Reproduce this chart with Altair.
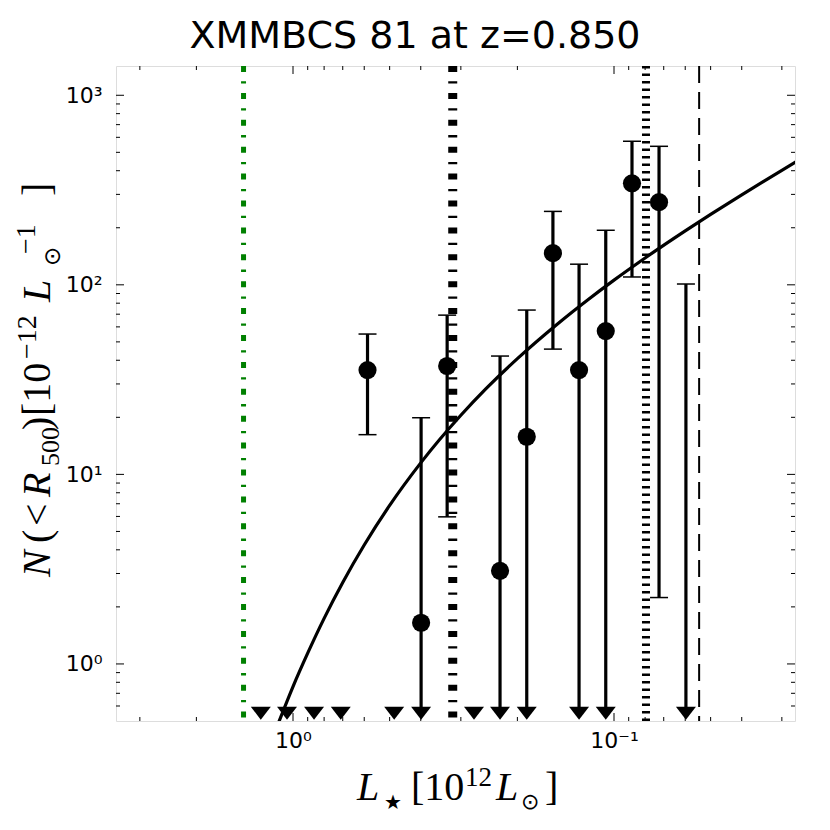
import altair as alt
import pandas as pd

# ---------------- data ----------------
# detected bins: luminosity [1e12 Lsun] and N(<R500) [1e-12 Lsun^-1]
pt_L = [0.586, 0.399, 0.331, 0.2265, 0.187, 0.155, 0.1285, 0.1061, 0.0879, 0.0724]
pt_N = [35.5, 1.65, 37.3, 3.10, 15.8, 147, 35.5, 57.0, 343, 273]

# error bars (None = lower limit drawn as an arrow to the bottom)
eb_L = [0.586, 0.399, 0.331, 0.2265, 0.187, 0.155, 0.1285, 0.1061, 0.0879, 0.0724, 0.0597]
eb_hi = [55.0, 19.9, 69.2, 42.1, 73.6, 244, 128.5, 194, 572, 538, 101]
eb_lo = [16.2, None, 5.97, None, None, 45.8, None, None, 110, 2.24, None]

# bins drawn as downward arrows / triangles at the bottom
arrow_L = [1.26, 1.044, 0.860, 0.710, 0.484, 0.399, 0.273, 0.2265, 0.187, 0.1285, 0.1061, 0.0597]

# model curve
curve_L = [1.12, 1.0, 0.9, 0.8, 0.7, 0.6, 0.5, 0.4, 0.3, 0.25, 0.2, 0.15, 0.12, 0.1,
           0.08, 0.06, 0.05, 0.04, 0.03, 0.027]
curve_N = [0.47, 0.76, 1.14, 1.74, 2.69, 4.24, 6.86, 11.5, 20.5, 28.4, 40.8, 62.2, 84.0,
           105.9, 138.6, 192.6, 235.2, 298.4, 401.9, 447.4]

# vertical reference lines
vline_green_L = 1.426
vline_dashdot_L = 0.318
vline_dotted_L = 0.0795
vline_dashed_L = 0.0543

# axis ticks
x_major = [1.0, 0.1]
x_minor = [3, 2, 0.9, 0.8, 0.7, 0.6, 0.5, 0.4, 0.3, 0.2, 0.09, 0.08, 0.07, 0.06, 0.05, 0.04, 0.03]
y_major = [1, 10, 100, 1000]
y_minor = [0.6, 0.7, 0.8, 0.9, 2, 3, 4, 5, 6, 7, 8, 9, 20, 30, 40, 50, 60, 70, 80, 90,
           200, 300, 400, 500, 600, 700, 800, 900]

TITLE = "XMMBCS 81 at z=0.850"
ARROW_N = 0.55

# ---------------- layout ----------------
W, H = 679, 655
OX, OY = 116, 66  # page position of the plot origin (for title pieces)

xscale = alt.Scale(type="log", domain=[0.0273, 3.56], reverse=True, nice=False, zero=False)
yscale = alt.Scale(type="log", domain=[0.5, 1427], nice=False, zero=False)

x_axis = alt.Axis(values=x_major, labelExpr="datum.value > 0.5 ? '10⁰' : '10⁻¹'",
                  ticks=False, domain=False, grid=False, title=None,
                  labelFont="DejaVu Sans", labelFontSize=22, labelColor="black",
                  labelPadding=9, labelOverlap=False, labelFlush=False)
y_axis = alt.Axis(values=y_major,
                  labelExpr="datum.value > 500 ? '10³' : datum.value > 50 ? '10²' : datum.value > 5 ? '10¹' : '10⁰'",
                  ticks=False, domain=False, grid=False, title=None,
                  labelFont="DejaVu Sans", labelFontSize=22, labelColor="black",
                  labelPadding=14, labelOverlap=False, labelFlush=False)


def X(f="L"):
    return alt.X(f"{f}:Q", scale=xscale, axis=x_axis)


def Y(f="N"):
    return alt.Y(f"{f}:Q", scale=yscale, axis=y_axis)


layers = []

# vertical lines
def vrule(L, color, width, dash):
    return alt.Chart(pd.DataFrame({"L": [L]})).mark_rule(
        color=color, strokeWidth=width, strokeDash=dash, strokeCap="butt"
    ).encode(x=X())

layers.append(vrule(vline_green_L, "#008000", 5, [6, 9.3, 2.3, 9.3]))
layers.append(vrule(vline_dashdot_L, "black", 9, [6, 9.3, 2.3, 9.3]))
layers.append(vrule(vline_dotted_L, "black", 8, [2.5, 5]))
layers.append(vrule(vline_dashed_L, "black", 2, [17, 9]))

# model curve
curve_df = pd.DataFrame({"L": curve_L, "N": curve_N})
layers.append(alt.Chart(curve_df).mark_line(color="black", strokeWidth=3.2, clip=True,
                                            interpolate="monotone").encode(x=X(), y=Y()))

# error bars
eb_df = pd.DataFrame({"L": eb_L, "hi": eb_hi,
                      "lo": [ARROW_N if v is None else v for v in eb_lo]})
layers.append(alt.Chart(eb_df).mark_rule(color="black", strokeWidth=3.2, strokeCap="butt").encode(
    x=X(), y=Y("lo"), y2="hi:Q"))

caps_L = list(eb_L) + [l for l, v in zip(eb_L, eb_lo) if v is not None]
caps_N = list(eb_hi) + [v for v in eb_lo if v is not None]
caps_df = pd.DataFrame({"L": caps_L, "N": caps_N})
layers.append(alt.Chart(caps_df).mark_point(shape="M-1,0L1,0", size=324, filled=False,
                                            stroke="black", strokeWidth=1.5, opacity=1).encode(
    x=X(), y=Y()))

# points
pt_df = pd.DataFrame({"L": pt_L, "N": pt_N})
layers.append(alt.Chart(pt_df).mark_point(shape="circle", filled=True, size=330,
                                          color="black", opacity=1).encode(x=X(), y=Y()))

# arrows / triangles at the bottom
ar_df = pd.DataFrame({"L": arrow_L, "N": [ARROW_N] * len(arrow_L)})
layers.append(alt.Chart(ar_df).mark_point(shape="M-1,-0.65L1,-0.65L0,0.65Z", filled=True,
                                          size=400, color="black", opacity=1).encode(
    x=X(), y=Y()))

# inward ticks on all four sides
def xticks(vals, length):
    df = pd.DataFrame({"L": vals})
    b = alt.Chart(df).mark_rule(color="black", strokeWidth=1).encode(
        x=X(), y=alt.value(H), y2=alt.value(H - length))
    t = alt.Chart(df).mark_rule(color="black", strokeWidth=1).encode(
        x=X(), y=alt.value(0), y2=alt.value(length))
    return [b, t]


def yticks(vals, length):
    df = pd.DataFrame({"N": vals})
    l = alt.Chart(df).mark_rule(color="black", strokeWidth=1).encode(
        y=Y(), x=alt.value(0), x2=alt.value(length))
    r = alt.Chart(df).mark_rule(color="black", strokeWidth=1).encode(
        y=Y(), x=alt.value(W), x2=alt.value(W - length))
    return [l, r]

layers += xticks(x_major, 8) + xticks(x_minor, 4) + yticks(y_major, 8) + yticks(y_minor, 4)

# text pieces (page coords -> plot coords)
dummy = pd.DataFrame({"d": [0]})

def piece(txt, px, py, size, italic=False, font="Liberation Serif", angle=0, align="left"):
    kw = dict(text=txt, font=font, fontSize=size, align=align, baseline="alphabetic",
              color="black", fontStyle="italic" if italic else "normal")
    if angle:
        kw["angle"] = angle
    return alt.Chart(dummy).mark_text(**kw).encode(x=alt.value(px - OX), y=alt.value(py - OY))

title_piece = [piece(TITLE, 415, 48, 38, font="DejaVu Sans", align="center")]

xt = [
    piece("L", 357, 800, 40, italic=True),
    piece("★", 384, 809, 20, font="DejaVu Sans"),
    piece("[10", 411, 800, 40),
    piece("12", 465, 786, 27),
    piece("L", 496, 800, 40, italic=True),
    piece("⊙", 521, 809, 22, font="DejaVu Sans"),
    piece("]", 545, 800, 40),
]
BX = 50  # baseline of the rotated y title (page x)
yt = [
    piece("N", BX, 577, 40, italic=True, angle=270),
    piece("(", BX, 543, 40, angle=270),
    piece("<", BX, 526, 40, angle=270),
    piece("R", BX, 497, 40, italic=True, angle=270),
    piece("500", BX + 9, 466, 26, angle=270),
    piece(")", BX, 430, 40, angle=270),
    piece("[10", BX, 416, 40, angle=270),
    piece("−12", BX - 14, 359, 28, angle=270),
    piece("L", BX, 302, 40, italic=True, angle=270),
    piece("−1", BX - 15, 254, 28, angle=270),
    piece("⊙", BX + 10, 266, 23, font="DejaVu Sans", angle=270),
    piece("]", BX, 196, 40, angle=270),
]
layers += title_piece + xt + yt

chart = alt.layer(*layers).properties(
    width=W, height=H,
    autosize=alt.AutoSizeParams(type="none"),
    padding={"left": 108, "top": 58, "right": 27, "bottom": 101},
).configure_view(stroke="black", strokeWidth=2).configure(background="white")

chart.save("out.html", embed_options={"renderer": "svg", "actions": False})
